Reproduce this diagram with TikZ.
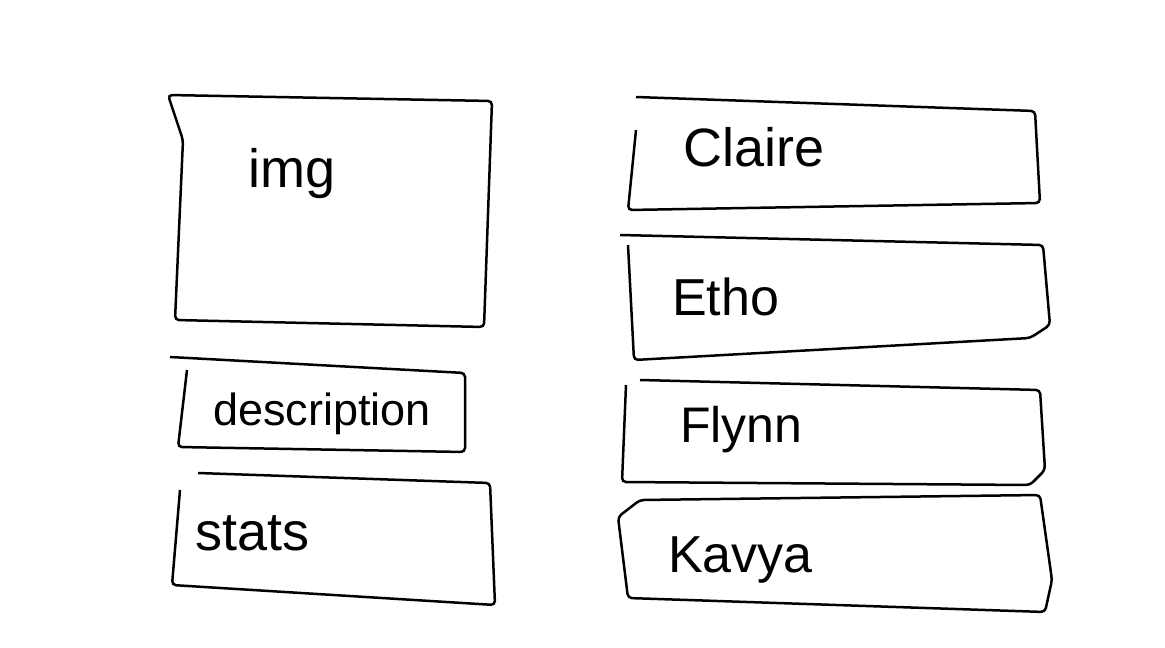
\documentclass[tikz,border=0pt]{standalone}
\usepackage{fontspec}
\setmainfont{Liberation Sans}
\begin{document}
\begin{tikzpicture}[x=1pt,y=-1pt,
  sketch/.style={draw=black,line width=2.5pt,rounded corners=4pt},
  lbl/.style={text=black,anchor=base west,inner sep=0pt}]
\useasboundingbox[fill=white] (0,0) rectangle (1165,648);
% left column
\draw[sketch] (168,95) -- (492,101) -- (484,327) -- (175,320) -- (183,140) -- cycle;
\draw[sketch] (170,357) -- (465,373) -- (465,452) -- (178,447) -- (187,370);
\draw[sketch] (198,473) -- (490,483) -- (495,605) -- (172,585) -- (180,490);
% right column
\draw[sketch] (636,97) -- (1035,111) -- (1040,203) -- (628,210) -- (636,130);
\draw[sketch] (620,235) -- (1043,245) -- (1050,325) -- (1030,338) -- (634,360) -- (628,245);
\draw[sketch] (640,380) -- (1040,390) -- (1045,470) -- (1030,485) -- (622,482) -- (626,385);
\draw[sketch] (618,517) -- (640,500) -- (1040,495) -- (1052,580) -- (1045,612) -- (628,598) -- cycle;
% labels
\node[lbl,font=\fontsize{54}{56}\selectfont] (img) at (248,187) {img};
\node[lbl,font=\fontsize{45}{47}\selectfont] (desc) at (213,425) {description};
\node[lbl,font=\fontsize{54}{56}\selectfont] (stats) at (195,550) {stats};
\node[lbl,font=\fontsize{54}{56}\selectfont] (claire) at (683,166) {Claire};
\node[lbl,font=\fontsize{52}{54}\selectfont] (etho) at (672,315) {Etho};
\node[lbl,font=\fontsize{50}{52}\selectfont] (flynn) at (680,442) {Flynn};
\node[lbl,font=\fontsize{52}{54}\selectfont] (kavya) at (668,572) {Kavya};
\end{tikzpicture}
\end{document}
